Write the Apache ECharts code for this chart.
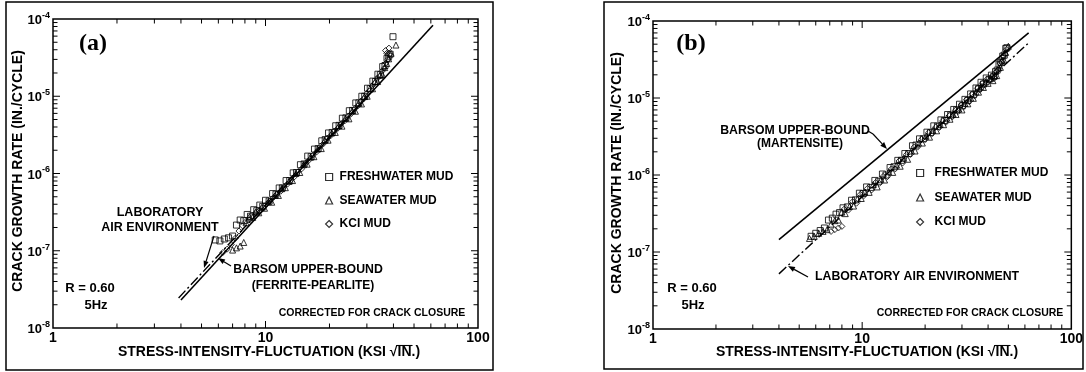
<!DOCTYPE html>
<html>
<head>
<meta charset="utf-8">
<script src="https://cdn.jsdelivr.net/npm/echarts@6/dist/echarts.min.js"></script>
<style>
  body { margin: 0; background: #fff; }
  #chart { width: 1086px; height: 372px; }
</style>
</head>
<body>
<div id="chart"></div>
<script>
// ---- data: [stress-intensity range (ksi sqrt(in)), crack growth rate (in/cycle)] ----
// panel (a) ferrite-pearlite
const freshA = [
  [5.8, 1.38e-7], [6.1, 1.34e-7], [6.4, 1.42e-7], [6.7, 1.47e-7], [7.0, 1.55e-7], [7.3, 2.15e-7],
  [7.6, 2.5e-7], [7.9, 2.45e-7], [8.2, 2.95e-7], [8.5, 2.8e-7], [8.8, 3.4e-7], [9.1, 3.3e-7],
  [9.4, 3.9e-7], [9.7, 3.75e-7], [10.0, 4.5e-7], [10.4, 4.4e-7], [10.8, 5.5e-7], [11.2, 5.4e-7],
  [11.6, 6.5e-7], [12.0, 6.5e-7], [12.5, 8.1e-7], [13.0, 8.1e-7], [13.5, 1.02e-6], [14.0, 1.03e-6],
  [14.6, 1.3e-6], [15.2, 1.33e-6], [15.8, 1.68e-6], [16.4, 1.65e-6], [17.0, 2.07e-6], [17.7, 2.1e-6],
  [18.4, 2.65e-6], [19.1, 2.75e-6], [19.8, 3.35e-6], [20.6, 3.4e-6], [21.4, 4.15e-6], [22.2, 4.2e-6],
  [23.0, 5.2e-6], [23.9, 5.25e-6], [24.8, 6.5e-6], [25.7, 6.55e-6], [26.6, 8.2e-6], [27.5, 8.2e-6],
  [28.4, 1.0e-5], [29.3, 1.0e-5], [30.2, 1.27e-5], [31.1, 1.25e-5], [32.0, 1.57e-5], [32.9, 1.55e-5],
  [33.8, 1.93e-5], [34.7, 1.9e-5], [35.6, 2.42e-5], [36.5, 2.5e-5], [37.3, 3.1e-5], [38.0, 3.3e-5],
  [38.6, 3.5e-5], [39.8, 5.9e-5]
]
const seaA = [
  [7.0, 1.02e-7], [7.3, 1.09e-7], [7.6, 1.15e-7], [7.9, 1.28e-7], [8.1, 2.3e-7], [8.4, 2.75e-7],
  [8.7, 2.7e-7], [9.0, 3.2e-7], [9.3, 3.1e-7], [9.6, 3.65e-7], [9.9, 3.55e-7], [10.3, 4.3e-7],
  [10.7, 4.25e-7], [11.1, 5.2e-7], [11.5, 5.2e-7], [11.9, 6.35e-7], [12.4, 6.55e-7], [12.9, 7.9e-7],
  [13.4, 8.1e-7], [13.9, 1.0e-6], [14.5, 1.03e-6], [15.1, 1.3e-6], [15.7, 1.32e-6], [16.3, 1.63e-6],
  [16.9, 1.65e-6], [17.6, 2.08e-6], [18.3, 2.1e-6], [19.0, 2.7e-6], [19.7, 2.7e-6], [20.5, 3.35e-6],
  [21.3, 3.4e-6], [22.1, 4.15e-6], [22.9, 4.1e-6], [23.8, 5.2e-6], [24.7, 5.1e-6], [25.6, 6.5e-6],
  [26.5, 6.4e-6], [27.4, 8.1e-6], [28.3, 7.95e-6], [29.2, 9.9e-6], [30.1, 1.0e-5], [31.0, 1.25e-5],
  [31.9, 1.25e-5], [32.8, 1.55e-5], [33.7, 1.55e-5], [34.6, 1.87e-5], [35.5, 1.9e-5], [36.4, 2.35e-5],
  [37.2, 2.65e-5], [38.0, 3.05e-5], [39.0, 3.6e-5], [41.1, 4.6e-5]
]
const kclA = [
  [6.3, 9.5e-8], [6.6, 1.05e-7], [6.9, 1.2e-7], [7.2, 1.45e-7], [7.5, 1.8e-7], [7.8, 2.1e-7],
  [8.1, 2.4e-7], [8.4, 2.5e-7], [8.7, 2.75e-7], [9.0, 3.1e-7], [9.3, 3.25e-7], [9.7, 3.6e-7],
  [10.1, 4.0e-7], [10.5, 4.4e-7], [10.9, 4.9e-7], [11.3, 5.4e-7], [11.8, 5.9e-7], [12.2, 6.7e-7],
  [12.7, 7.3e-7], [13.2, 8.3e-7], [13.7, 9.1e-7], [14.2, 1.05e-6], [14.8, 1.15e-6], [15.4, 1.35e-6],
  [16.0, 1.48e-6], [16.7, 1.72e-6], [17.4, 1.9e-6], [18.1, 2.25e-6], [18.8, 2.45e-6], [19.5, 2.85e-6],
  [20.3, 3.1e-6], [21.1, 3.55e-6], [21.9, 3.85e-6], [22.7, 4.4e-6], [23.6, 4.8e-6], [24.5, 5.5e-6],
  [25.4, 6.0e-6], [26.3, 6.9e-6], [27.2, 7.5e-6], [28.1, 8.6e-6], [29.0, 9.3e-6], [29.9, 1.08e-5],
  [30.8, 1.17e-5], [31.7, 1.36e-5], [32.6, 1.47e-5], [33.5, 1.7e-5], [34.4, 1.82e-5], [35.3, 2.1e-5],
  [36.2, 2.3e-5], [36.9, 2.7e-5], [37.7, 3.0e-5], [38.4, 3.5e-5], [37.2, 3.6e-5], [38.1, 4.2e-5],
  [36.7, 3.9e-5]
]
const barsomA = [[4, 2.3e-8], [61.4, 8.3e-5]]
const labAirA = [[3.9, 2.45e-8], [30, 9.9e-6]]

// panel (b) martensite
const freshB = [
  [5.7, 1.6e-7], [6.0, 1.75e-7], [6.3, 1.9e-7], [6.6, 2.05e-7], [6.9, 2.6e-7], [7.2, 2.75e-7],
  [7.5, 3.1e-7], [7.8, 3.25e-7], [8.1, 3.75e-7], [8.5, 3.85e-7], [8.9, 4.7e-7], [9.3, 4.75e-7],
  [9.7, 5.8e-7], [10.1, 5.75e-7], [10.5, 7.0e-7], [11.0, 6.9e-7], [11.5, 8.5e-7], [12.0, 8.3e-7],
  [12.5, 1.03e-6], [13.0, 1.0e-6], [13.6, 1.25e-6], [14.2, 1.28e-6], [14.8, 1.55e-6], [15.4, 1.55e-6],
  [16.0, 1.9e-6], [16.7, 1.9e-6], [17.4, 2.4e-6], [18.1, 2.45e-6], [18.8, 2.95e-6], [19.6, 2.95e-6],
  [20.4, 3.6e-6], [21.2, 3.55e-6], [22.0, 4.35e-6], [22.9, 4.3e-6], [23.8, 5.2e-6], [24.7, 5.1e-6],
  [25.6, 6.1e-6], [26.5, 6.0e-6], [27.4, 7.1e-6], [28.3, 7.0e-6], [29.2, 8.3e-6], [30.1, 7.9e-6],
  [31.0, 9.6e-6], [32.0, 9.3e-6], [33.0, 1.13e-5], [34.0, 1.1e-5], [35.0, 1.35e-5], [36.0, 1.32e-5],
  [37.0, 1.6e-5], [38.0, 1.52e-5], [39.2, 1.82e-5], [40.5, 1.75e-5], [41.5, 1.98e-5], [42.5, 1.9e-5],
  [43.4, 2.2e-5], [44.2, 2.3e-5], [45.1, 2.75e-5], [46.0, 2.9e-5], [47.0, 3.5e-5], [47.8, 3.6e-5],
  [48.6, 4.4e-5], [49.2, 4.5e-5]
]
const seaB = [
  [5.6, 1.5e-7], [5.9, 1.6e-7], [6.2, 1.75e-7], [6.5, 1.85e-7], [6.8, 1.95e-7], [7.1, 2.3e-7],
  [7.4, 2.55e-7], [7.7, 2.6e-7], [8.0, 3.3e-7], [8.3, 3.15e-7], [8.7, 3.9e-7], [9.1, 3.95e-7],
  [9.5, 4.9e-7], [9.9, 4.95e-7], [10.3, 6.0e-7], [10.8, 5.95e-7], [11.3, 7.5e-7], [11.8, 7.0e-7],
  [12.3, 8.8e-7], [12.8, 8.6e-7], [13.4, 1.1e-6], [14.0, 1.08e-6], [14.6, 1.35e-6], [15.2, 1.3e-6],
  [15.8, 1.65e-6], [16.5, 1.6e-6], [17.2, 2.05e-6], [17.9, 2.05e-6], [18.6, 2.6e-6], [19.4, 2.6e-6],
  [20.2, 3.2e-6], [21.0, 3.1e-6], [21.8, 3.8e-6], [22.7, 3.75e-6], [23.6, 4.55e-6], [24.5, 4.5e-6],
  [25.4, 5.5e-6], [26.3, 5.3e-6], [27.2, 6.2e-6], [28.1, 6.1e-6], [29.0, 7.2e-6], [30.0, 7.0e-6],
  [31.0, 8.5e-6], [32.0, 8.4e-6], [33.0, 1.0e-5], [34.0, 9.9e-6], [35.0, 1.2e-5], [36.0, 1.19e-5],
  [37.0, 1.42e-5], [38.0, 1.37e-5], [39.0, 1.62e-5], [40.0, 1.55e-5], [41.2, 1.8e-5], [42.2, 1.68e-5],
  [43.2, 1.95e-5], [44.0, 1.95e-5], [44.9, 2.45e-5], [45.8, 2.5e-5], [46.7, 3.1e-5], [47.6, 3.1e-5],
  [48.5, 3.9e-5], [50.0, 4.7e-5]
]
const kclB = [
  [7.1, 1.85e-7], [7.4, 1.95e-7], [7.7, 2.05e-7], [8.0, 2.15e-7], [8.2, 3.6e-7], [8.6, 3.5e-7],
  [9.0, 4.5e-7], [9.4, 4.3e-7], [9.8, 5.6e-7], [10.2, 5.4e-7], [10.6, 6.7e-7], [11.1, 6.4e-7],
  [11.6, 8.0e-7], [12.1, 7.8e-7], [12.6, 9.6e-7], [13.2, 9.5e-7], [13.8, 1.2e-6], [14.4, 1.2e-6],
  [15.0, 1.52e-6], [15.6, 1.43e-6], [16.3, 1.85e-6], [17.0, 1.85e-6], [17.7, 2.3e-6], [18.4, 2.3e-6],
  [19.2, 2.9e-6], [20.0, 2.9e-6], [20.8, 3.55e-6], [21.6, 3.45e-6], [22.5, 4.2e-6], [23.4, 4.15e-6],
  [24.3, 5.05e-6], [25.2, 4.85e-6], [26.1, 5.9e-6], [27.0, 5.7e-6], [27.9, 6.9e-6], [28.8, 6.7e-6],
  [29.7, 8.1e-6], [30.6, 7.8e-6], [31.5, 9.5e-6], [32.5, 9.0e-6], [33.5, 1.12e-5], [34.5, 1.07e-5],
  [35.5, 1.33e-5], [36.5, 1.28e-5], [37.5, 1.55e-5], [38.5, 1.48e-5], [39.5, 1.75e-5], [40.7, 1.7e-5],
  [41.8, 1.9e-5], [42.8, 1.8e-5], [43.8, 2.2e-5], [44.6, 2.3e-5], [45.5, 2.85e-5], [46.4, 2.9e-5],
  [47.3, 3.5e-5], [48.2, 3.7e-5], [49.0, 4.3e-5]
]
const barsomB = [[4, 1.45e-7], [62.5, 7.0e-5]]
const labAirB = [[4, 5.2e-8], [62.5, 5.2e-5]]

const seriesNames = ['FRESHWATER MUD', 'SEAWATER MUD', 'KCI MUD']
const seriesSymbols = ['rect', 'triangle', 'diamond']

// tick marks (drawn inside, on all four sides)
const xMinorTicks = [2, 3, 4, 5, 6, 7, 8, 9, 20, 30, 40, 50, 60, 70, 80, 90]
const xMajorTicks = [10]
const yMantissas = [2, 3, 4, 5, 6, 7, 8, 9]
const yDecades = [-8, -7, -6, -5]
const yMajorTicks = [1e-7, 1e-6, 1e-5]

const FONT = '"Liberation Sans", Arial, Helvetica, sans-serif'

const tickData = []
xMinorTicks.forEach(v => tickData.push([v, 1e-8, 0]))
xMajorTicks.forEach(v => tickData.push([v, 1e-8, 1]))
yDecades.forEach(d => yMantissas.forEach(m => tickData.push([1, Number((m + 'e' + d)), 2])))
yMajorTicks.forEach(v => tickData.push([1, v, 3]))

function renderTick (params, api) {
  const kind = api.value(2)
  const p = api.coord([api.value(0), api.value(1)])
  const cs = params.coordSys
  const st = {stroke: '#000', lineWidth: 1}
  if (kind < 2) {
    const len = kind === 1 ? 7 : 4.5
    return {type: 'group', children: [
      {type: 'line', shape: {x1: p[0], y1: cs.y + cs.height, x2: p[0], y2: cs.y + cs.height - len}, style: st},
      {type: 'line', shape: {x1: p[0], y1: cs.y, x2: p[0], y2: cs.y + len}, style: st}
    ]}
  }
  const len = kind === 3 ? 7 : 4.5
  return {type: 'group', children: [
    {type: 'line', shape: {x1: cs.x, y1: p[1], x2: cs.x + len, y2: p[1]}, style: st},
    {type: 'line', shape: {x1: cs.x + cs.width, y1: p[1], x2: cs.x + cs.width - len, y2: p[1]}, style: st}
  ]}
}

function txt (x, y, text, size, align, family) {
  return {
    type: 'text', x: x, y: y, silent: true, z: 20,
    style: {
      text: text, fill: '#000', fontSize: size, fontWeight: 'bold', fontFamily: family || FONT,
      align: align || 'center', textAlign: align || 'center',
      verticalAlign: 'middle', textVerticalAlign: 'middle'
    }
  }
}

function arrow (x1, y1, x2, y2) {
  const a = Math.atan2(y2 - y1, x2 - x1)
  const L = 7, W = 2.6
  const bx = x2 - L * Math.cos(a), by = y2 - L * Math.sin(a)
  return [
    {type: 'line', silent: true, z: 20, shape: {x1: x1, y1: y1, x2: bx, y2: by}, style: {stroke: '#000', lineWidth: 1.2}},
    {type: 'polygon', silent: true, z: 20, shape: {points: [[x2, y2], [bx - W * Math.sin(a), by + W * Math.cos(a)], [bx + W * Math.sin(a), by - W * Math.cos(a)]]}, style: {fill: '#000'}}
  ]
}

function measure (text, size) {
  const ctx = document.createElement('canvas').getContext('2d')
  ctx.font = 'bold ' + size + 'px ' + FONT
  return ctx.measureText(text).width
}

// x-axis title with overline over "IN"
const X_TITLE = 'STRESS-INTENSITY-FLUCTUATION (KSI \u221AIN.)'
function xTitle (cx, cy) {
  const size = 14
  const full = measure(X_TITLE, size)
  const left = cx - full / 2
  const pre = measure('STRESS-INTENSITY-FLUCTUATION (KSI \u221A', size)
  const upto = measure('STRESS-INTENSITY-FLUCTUATION (KSI \u221AIN', size)
  return [
    txt(cx, cy, X_TITLE, size),
    {type: 'line', silent: true, z: 20, shape: {x1: left + pre - 1, y1: cy - 6.5, x2: left + upto + 1, y2: cy - 6.5}, style: {stroke: '#000', lineWidth: 1.1}}
  ]
}

function yTitle (cx, cy) {
  const t = txt(cx, cy, 'CRACK GROWTH RATE (IN./CYCLE)', 14)
  t.rotation = Math.PI / 2
  return t
}

const graphics = [
  {type: 'rect', silent: true, shape: {x: 6, y: 2, width: 487, height: 368}, style: {fill: 'none', stroke: '#000', lineWidth: 1.5}},
  {type: 'rect', silent: true, shape: {x: 604, y: 2, width: 479, height: 367}, style: {fill: 'none', stroke: '#000', lineWidth: 1.5}},
  // panel (a)
  txt(93, 44, '(a)', 24, 'center', '"Liberation Serif", "Times New Roman", serif'),
  txt(160, 213, 'LABORATORY', 12.5),
  txt(160, 228, 'AIR ENVIRONMENT', 12.5),
  txt(308, 270, 'BARSOM UPPER-BOUND', 12.3),
  txt(313, 286, '(FERRITE-PEARLITE)', 12),
  txt(90, 288, 'R = 0.60', 13),
  txt(96, 305, '5Hz', 13),
  txt(372, 313, 'CORRECTED FOR CRACK CLOSURE', 10.5),
  ...arrow(214, 236, 204, 268),
  ...arrow(231, 266, 218, 258),
  ...xTitle(269, 352),
  yTitle(18, 171),
  // panel (b)
  txt(691, 44, '(b)', 24, 'center', '"Liberation Serif", "Times New Roman", serif'),
  txt(795, 131, 'BARSOM UPPER-BOUND', 12.3),
  txt(800, 144, '(MARTENSITE)', 12),
  txt(815, 277, 'LABORATORY AIR ENVIRONMENT', 12.3, 'left'),
  txt(692, 288, 'R = 0.60', 13),
  txt(693, 305, '5Hz', 13),
  txt(970, 313, 'CORRECTED FOR CRACK CLOSURE', 10.5),
  {type: 'line', silent: true, z: 20, shape: {x1: 868, y1: 131, x2: 873, y2: 134}, style: {stroke: '#000', lineWidth: 1.2}},
  ...arrow(873, 134, 887, 149),
  ...arrow(808, 277, 788, 266),
  ...xTitle(867, 352),
  yTitle(617, 173)
]

const gridBox = [
  {left: 53, top: 19, width: 425, height: 309},
  {left: 653, top: 21, width: 421, height: 308}
]

const chart = echarts.init(document.getElementById('chart'))

const series = []
const panels = [
  {pts: [freshA, seaA, kclA], barsom: barsomA, lab: labAirA},
  {pts: [freshB, seaB, kclB], barsom: barsomB, lab: labAirB}
]
panels.forEach((pn, i) => {
  series.push({type: 'line', xAxisIndex: i, yAxisIndex: i, data: pn.barsom, symbol: 'none', silent: true, z: 2,
    lineStyle: {color: '#000', width: 1.6}})
  series.push({type: 'line', xAxisIndex: i, yAxisIndex: i, data: pn.lab, symbol: 'none', silent: true, z: 2,
    lineStyle: {color: '#000', width: 1.4, type: [10, 3, 2, 3]}})
  pn.pts.forEach((d, k) => {
    series.push({
      name: seriesNames[k], type: 'scatter', xAxisIndex: i, yAxisIndex: i, data: d,
      symbol: seriesSymbols[k], symbolSize: 6, silent: true, z: 3,
      itemStyle: {color: 'rgba(0,0,0,0)', borderColor: '#000', borderWidth: 1}
    })
  })
  series.push({type: 'custom', xAxisIndex: i, yAxisIndex: i, data: tickData, renderItem: renderTick, silent: true, z: 4, clip: false})
})

const legendPos = [
  {left: 320, top: 165, gap: 9.5, pad: 2},
  {left: 911, top: 161, gap: 10.5, pad: 6}
]

const option = {
  animation: false,
  backgroundColor: '#fff',
  grid: gridBox.map(g => Object.assign({show: true, borderColor: '#000', borderWidth: 1.5, backgroundColor: 'transparent'}, g)),
  xAxis: [0, 1].map(i => ({
    type: 'log', logBase: 10, min: 1, max: 100, gridIndex: i,
    axisLine: {show: false}, axisTick: {show: false}, splitLine: {show: false},
    axisLabel: {color: '#000', fontFamily: FONT, fontWeight: 'bold', fontSize: 14, margin: 3, showMinLabel: true, showMaxLabel: true}
  })),
  yAxis: [0, 1].map(i => ({
    type: 'log', logBase: 10, min: 1e-8, max: 1e-4, gridIndex: i,
    axisLine: {show: false}, axisTick: {show: false}, splitLine: {show: false},
    axisLabel: {
      margin: 3, showMinLabel: true, showMaxLabel: true,
      formatter: v => '{b|10}{s|' + Math.round(Math.log10(v)) + '}',
      rich: {
        b: {color: '#000', fontFamily: FONT, fontWeight: 'bold', fontSize: 13, lineHeight: 16, verticalAlign: 'bottom'},
        s: {color: '#000', fontFamily: FONT, fontWeight: 'bold', fontSize: 9, lineHeight: 10, verticalAlign: 'top'}
      }
    }
  })),
  legend: legendPos.map(p => ({
    data: seriesNames, orient: 'vertical', left: p.left, top: p.top,
    itemWidth: 7, itemHeight: 7, itemGap: p.gap, selectedMode: false,
    itemStyle: {color: 'rgba(0,0,0,0)', borderColor: '#000', borderWidth: 1.2},
    textStyle: {color: '#000', fontFamily: FONT, fontWeight: 'bold', fontSize: 12, lineHeight: 14, padding: [0, 0, 0, p.pad]}
  })),
  graphic: graphics,
  series: series
}
chart.setOption(option, true)
</script>
</body>
</html>
